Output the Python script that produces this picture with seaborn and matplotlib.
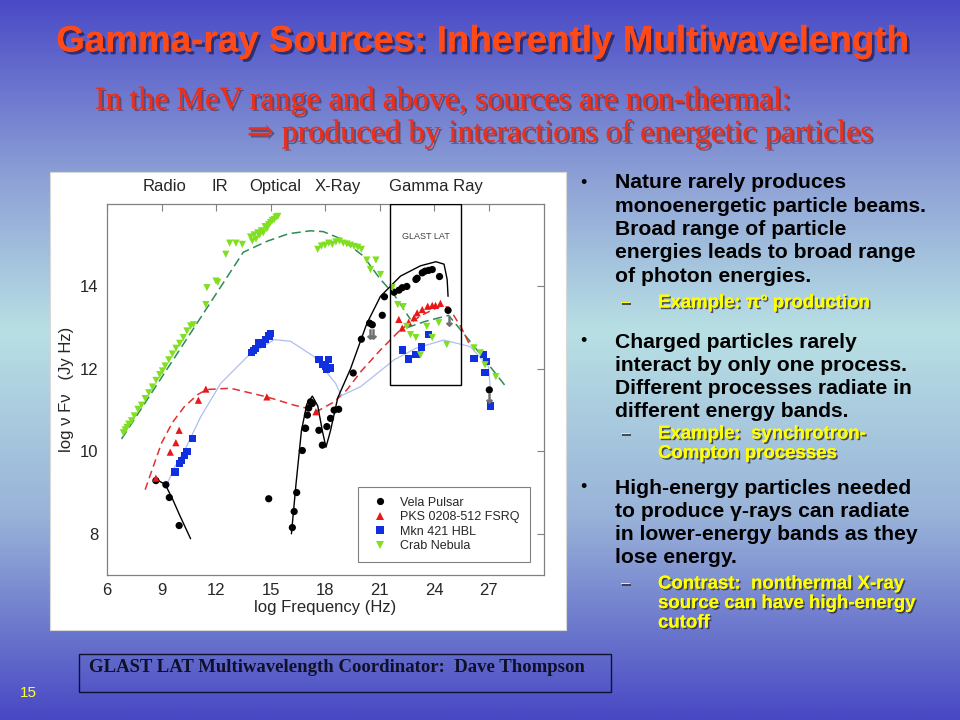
import numpy as np
import pandas as pd
import seaborn as sns
import matplotlib.pyplot as plt
import matplotlib.patheffects as pe
from matplotlib.patches import Rectangle
from matplotlib.colors import LinearSegmentedColormap

# --- measured points (log Frequency, log nu F nu) ---
vela_x = [8.69, 9.24, 9.43, 9.97, 14.9, 16.2, 16.3, 16.44, 16.75, 16.93, 17.03, 17.1, 17.2, 17.3,
          16.9, 17.66, 17.85, 18.1, 18.3, 18.5, 18.75, 19.55, 20.0, 20.45, 20.6, 21.15, 21.27, 21.8,
          22.07, 22.25, 22.5, 23.0, 23.07, 23.35, 23.5, 23.7, 23.9, 24.3, 24.77, 27.04]
vela_y = [9.29, 9.19, 8.88, 8.2, 8.85, 8.15, 8.54, 9.0, 10.02, 10.56, 10.88, 11.05, 11.2, 11.16,
          10.56, 10.51, 10.15, 10.6, 10.8, 11.0, 11.02, 11.9, 12.72, 13.11, 13.07, 13.3, 13.75, 13.86,
          13.91, 13.97, 14.0, 14.17, 14.2, 14.33, 14.37, 14.39, 14.41, 14.24, 13.42, 11.49]

pks_x = [8.69, 9.48, 9.79, 9.97, 11.03, 11.44, 14.8, 17.5, 22.06, 22.25, 22.6, 22.9, 23.07, 23.35,
         23.65, 23.9, 24.08, 24.35]
pks_y = [9.35, 9.98, 10.21, 10.51, 11.24, 11.51, 11.32, 10.96, 13.2, 12.99, 13.13, 13.24, 13.36, 13.44,
         13.52, 13.54, 13.54, 13.59]

mkn_x = [9.74, 9.97, 10.12, 10.25, 10.4, 10.7, 13.95, 14.05, 14.19, 14.37, 14.55, 14.74, 14.92, 15.0,
         17.67, 17.85, 18.03, 18.2, 18.3, 18.1, 22.25, 22.6, 23.0, 23.3, 23.7, 26.2, 26.7, 26.9, 26.8, 27.1]
mkn_y = [9.5, 9.7, 9.78, 9.9, 10.0, 10.31, 12.4, 12.45, 12.5, 12.63, 12.59, 12.71, 12.8, 12.85,
         12.22, 12.1, 12.06, 12.22, 12.02, 11.98, 12.46, 12.24, 12.34, 12.53, 12.83, 12.26, 12.34, 12.18, 11.91, 11.1]

crab_x = [6.9, 7.0, 7.1, 7.2, 7.35, 7.5, 7.7, 7.9, 8.1, 8.3, 8.5, 8.7, 8.9, 9.05, 9.2, 9.4, 9.6, 9.8,
          10.0, 10.2, 10.4, 10.6, 10.75, 11.44, 11.5, 12.0, 12.1, 12.54, 12.75, 13.1, 13.45,
          13.9, 14.0, 14.1, 14.2, 14.3, 14.4, 14.5, 14.6, 14.7, 14.8, 14.9, 15.0, 15.1, 15.2, 15.3, 15.4,
          17.6, 17.8, 18.0, 18.2, 18.4, 18.6, 18.8, 19.0, 19.2, 19.4, 19.6, 19.8, 20.0,
          20.3, 20.8, 20.5, 21.05, 21.7, 22.0, 22.3, 22.5, 22.7, 23.0, 23.25, 23.6, 23.9, 24.26, 24.7,
          26.2, 26.55, 26.8, 27.4]
crab_y = [10.45, 10.52, 10.58, 10.66, 10.74, 10.86, 11.02, 11.12, 11.28, 11.42, 11.56, 11.72, 11.86, 11.95,
          12.07, 12.22, 12.36, 12.5, 12.62, 12.76, 12.92, 13.04, 13.07, 13.56, 13.97, 14.13, 14.1, 14.78,
          15.05, 15.05, 15.02,
          15.2, 15.1, 15.25, 15.15, 15.3, 15.25, 15.35, 15.3, 15.45, 15.4, 15.5, 15.55, 15.6, 15.62, 15.68, 15.7,
          14.9, 14.98, 15.0, 15.05, 15.02, 15.08, 15.1, 15.05, 15.03, 15.0, 14.97, 14.95, 14.9,
          14.64, 14.64, 14.41, 14.29, 13.97, 13.56, 13.51, 13.03, 12.83, 12.76, 12.34, 13.03, 12.76, 13.12, 12.59,
          12.51, 12.39, 12.1, 11.81]

# upper limits (grey arrows)
ul_x = [20.45, 20.62, 24.8, 27.05]
ul_y = [12.85, 12.85, 13.15, 11.3]

# --- model curves ---
vela_mx = [8.69, 9.2, 9.6, 10.0, 10.6,
           16.15, 16.4, 16.7, 17.0, 17.3, 17.6, 17.85, 18.05, 18.3, 18.7, 19.4, 20.3, 21.05, 22.15,
           23.25, 24.1, 24.55, 24.72, 24.77]
vela_my = [9.32, 9.2, 8.85, 8.45, 7.88,
           8.0, 9.2, 10.5, 11.15, 11.34, 11.1, 10.5, 10.1, 10.5, 11.3, 12.0, 13.1, 13.76, 14.25,
           14.5, 14.6, 14.54, 14.17, 13.76]
vela_part = [0] * 5 + [1] * 19

pks_mx = [8.1, 8.6, 9.0, 9.6, 10.25, 11.0, 11.5, 12.8, 14.8, 16.3, 17.6, 18.5, 19.2, 20.0, 21.05,
          22.15, 23.3, 24.35, 24.8, 25.5, 26.0]
pks_my = [9.07, 9.7, 10.2, 10.7, 11.08, 11.38, 11.5, 11.53, 11.32, 11.12, 10.98, 11.2, 11.49, 11.95, 12.46,
          12.95, 13.3, 13.52, 13.5, 13.0, 12.55]

mkn_mx = [9.2, 9.7, 10.3, 11.16, 12.26, 13.73, 15.19, 16.1, 17.39, 18.58, 18.9, 19.96, 21.8, 23.0,
          24.53, 26.0, 27.0, 27.1]
mkn_my = [9.1, 9.6, 10.05, 10.84, 11.65, 12.3, 12.71, 12.67, 12.3, 11.65, 11.35, 11.57, 12.22, 12.5,
          12.7, 12.54, 12.05, 11.49]

crab_mx = [6.8, 13.5, 14.83, 16.0, 17.2, 17.9, 18.9, 20.1, 21.0, 21.8, 22.7,
           22.5, 23.5, 24.8, 26.2, 27.9]
crab_my = [10.3, 14.83, 15.1, 15.28, 15.35, 15.33, 15.15, 14.74, 14.2, 13.8, 13.2,
           13.0, 13.15, 13.3, 12.55, 11.6]
crab_part = [0] * 11 + [1] * 5

sources = ['Vela Pulsar', 'PKS 0208-512 FSRQ', 'Mkn 421 HBL', 'Crab Nebula']
colors = {'Vela Pulsar': 'black', 'PKS 0208-512 FSRQ': '#e81818',
          'Mkn 421 HBL': '#1030e0', 'Crab Nebula': '#80e020'}
markers = {'Vela Pulsar': 'o', 'PKS 0208-512 FSRQ': '^', 'Mkn 421 HBL': 's', 'Crab Nebula': 'v'}

pts = pd.concat([
    pd.DataFrame({'x': vela_x, 'y': vela_y, 'source': sources[0]}),
    pd.DataFrame({'x': pks_x, 'y': pks_y, 'source': sources[1]}),
    pd.DataFrame({'x': mkn_x, 'y': mkn_y, 'source': sources[2]}),
    pd.DataFrame({'x': crab_x, 'y': crab_y, 'source': sources[3]}),
], ignore_index=True)

sns.set_style('white')
plt.rcParams['font.family'] = ['Liberation Sans', 'DejaVu Sans']

fig = plt.figure(figsize=(9.6, 7.2), dpi=100)

# slide background
bg = fig.add_axes([0, 0, 1, 1])
grad = np.linspace(0, 1, 512).reshape(-1, 1)
cmap = LinearSegmentedColormap.from_list('slide', [(0, '#4a4ac6'), (0.25, '#8ea2d6'),
                                                   (0.46, '#b8e0e4'), (0.72, '#98b2d8'),
                                                   (1, '#4848c4')])
bg.imshow(grad, aspect='auto', cmap=cmap, extent=[0, 1, 0, 1], origin='upper')
bg.set_axis_off()

# white picture panel
fig.patches.append(Rectangle((50 / 960, 1 - 630 / 720), 516 / 960, 458 / 720,
                             transform=fig.transFigure, facecolor='white', edgecolor='#d8d8d8',
                             lw=0.8, zorder=1))

ax = fig.add_axes([107 / 960, 1 - 575 / 720, 437 / 960, 371 / 720])
ax.set_zorder(2)
ax.set_facecolor('white')

sns.lineplot(x=crab_mx, y=crab_my, units=crab_part, estimator=None, sort=False, ax=ax,
             color='#2e8b57', lw=1.1, linestyle=(0, (6, 3)), legend=False)
sns.lineplot(x=pks_mx, y=pks_my, estimator=None, sort=False, ax=ax,
             color='#e03030', lw=1.1, linestyle=(0, (5, 3)), legend=False)
sns.lineplot(x=mkn_mx, y=mkn_my, estimator=None, sort=False, ax=ax,
             color='#aebef2', lw=0.9, legend=False)
sns.lineplot(x=vela_mx, y=vela_my, units=vela_part, estimator=None, sort=False, ax=ax,
             color='black', lw=1.0, legend=False)

sns.scatterplot(data=pts, x='x', y='y', hue='source', style='source', hue_order=sources,
                style_order=sources, palette=colors, markers=markers, s=27, linewidth=0,
                ax=ax, zorder=3)
ax.scatter(ul_x, ul_y, marker=r'$\downarrow$', s=45, color='#707070', zorder=3)

# GLAST LAT window
ax.add_patch(Rectangle((21.6, 11.6), 3.9, 4.4, fill=False, edgecolor='black', lw=1.0, zorder=4))
ax.text(23.55, 15.22, 'GLAST LAT', fontsize=6.5, color='#404040', ha='center', va='center')

ax.set_xlim(6, 30.05)
ax.set_ylim(7, 16)
ax.set_xticks([6, 9, 12, 15, 18, 21, 24, 27])
ax.set_yticks([8, 10, 12, 14])
ax.tick_params(direction='in', length=5, width=0.8, color='#808080', labelsize=12,
               top=True, right=True, pad=6)
for sp in ax.spines.values():
    sp.set_color('#808080')
    sp.set_linewidth(0.9)
ax.set_xlabel('log Frequency (Hz)', fontsize=12, labelpad=1)
ax.set_ylabel('log \u03bd F\u03bd   (Jy Hz)', fontsize=12, labelpad=4)

band_names = ['Radio', 'IR', 'Optical', 'X-Ray', 'Gamma Ray']
band_pos = [9.19, 12.2, 15.26, 18.7, 24.08]
for name, bx in zip(band_names, band_pos):
    ax.text(bx, 1.047, name, transform=ax.get_xaxis_transform(), ha='center', va='center',
            fontsize=12)

handles, labels = ax.get_legend_handles_labels()
keep = [(h, l) for h, l in zip(handles, labels) if l in sources]
leg = ax.legend([h for h, _ in keep], [l for _, l in keep], loc='lower left',
                bbox_to_anchor=(0.574, 0.035), borderaxespad=0, fontsize=9, frameon=True,
                fancybox=False, edgecolor='#606060', handletextpad=0.6, borderpad=0.8,
                labelspacing=0.2, markerscale=1.0)
leg.get_frame().set_linewidth(0.8)
leg.set_zorder(5)

# slide texts
shadow = [pe.withSimplePatchShadow(offset=(2, -2), shadow_rgbFace='#1a1a50', alpha=0.7), pe.Normal()]
sub_shadow = [pe.withSimplePatchShadow(offset=(1.5, -1.5), shadow_rgbFace='#502030', alpha=0.55),
              pe.Normal()]
small_shadow = [pe.withSimplePatchShadow(offset=(1.2, -1.2), shadow_rgbFace='#303030', alpha=0.8),
                pe.Normal()]


def fx(px):
    return px / 960


def fy(py):
    return 1 - py / 720


fig.text(fx(482), fy(42), 'Gamma-ray Sources: Inherently Multiwavelength', fontsize=26.5,
         fontweight='bold', color='#ff4a18', ha='center', va='center', path_effects=shadow)
fig.text(fx(95), fy(101), 'In the MeV range and above, sources are non-thermal:', fontsize=23,
         family=['Liberation Serif', 'DejaVu Serif'], color='#e8301c', ha='left', va='center',
         path_effects=sub_shadow)
fig.text(fx(247), fy(134), '\u21d2 produced by interactions of energetic particles', fontsize=23,
         family=['Liberation Serif', 'DejaVu Serif'], color='#e8301c', ha='left', va='center',
         path_effects=sub_shadow)

bullets = [
    (183, ['Nature rarely produces', 'monoenergetic particle beams.', 'Broad range of particle',
           'energies leads to broad range', 'of photon energies.']),
    (342, ['Charged particles rarely', 'interact by only one process.', 'Different processes radiate in',
           'different energy bands.']),
    (488, ['High-energy particles needed', 'to produce \u03b3-rays can radiate',
           'in lower-energy bands as they', 'lose energy.']),
]
for top, lines in bullets:
    fig.text(fx(580), fy(top), '\u2022', fontsize=13, color='black', ha='left', va='center')
    for i, line in enumerate(lines):
        fig.text(fx(615), fy(top + i * 23.3), line, fontsize=15.2, fontweight='bold', color='black',
                 ha='left', va='center')

subs = [
    (303, ['Example: \u03c0\u00b0 production']),
    (434, ['Example:  synchrotron-', 'Compton processes']),
    (584, ['Contrast:  nonthermal X-ray', 'source can have high-energy', 'cutoff']),
]
for top, lines in subs:
    fig.text(fx(620), fy(top), '\u2013', fontsize=13.4, fontweight='bold', color='#ffff00',
             ha='left', va='center', path_effects=small_shadow)
    for i, line in enumerate(lines):
        fig.text(fx(658), fy(top + i * 19.5), line, fontsize=13.4, fontweight='bold', color='#ffff00',
                 ha='left', va='center', path_effects=small_shadow)

# footer
fig.patches.append(Rectangle((fx(79), fy(692)), 532 / 960, 38 / 720, transform=fig.transFigure,
                             fill=False, edgecolor='#101030', lw=1.0, zorder=3))
fig.text(fx(89), fy(668), 'GLAST LAT Multiwavelength Coordinator:  Dave Thompson', fontsize=13.5,
         fontweight='bold', family=['Liberation Serif', 'DejaVu Serif'], color='#101028',
         ha='left', va='center')
fig.text(fx(20), fy(693), '15', fontsize=11, color='#ffff40', ha='left', va='center')

fig.savefig('out.png', dpi=100)
